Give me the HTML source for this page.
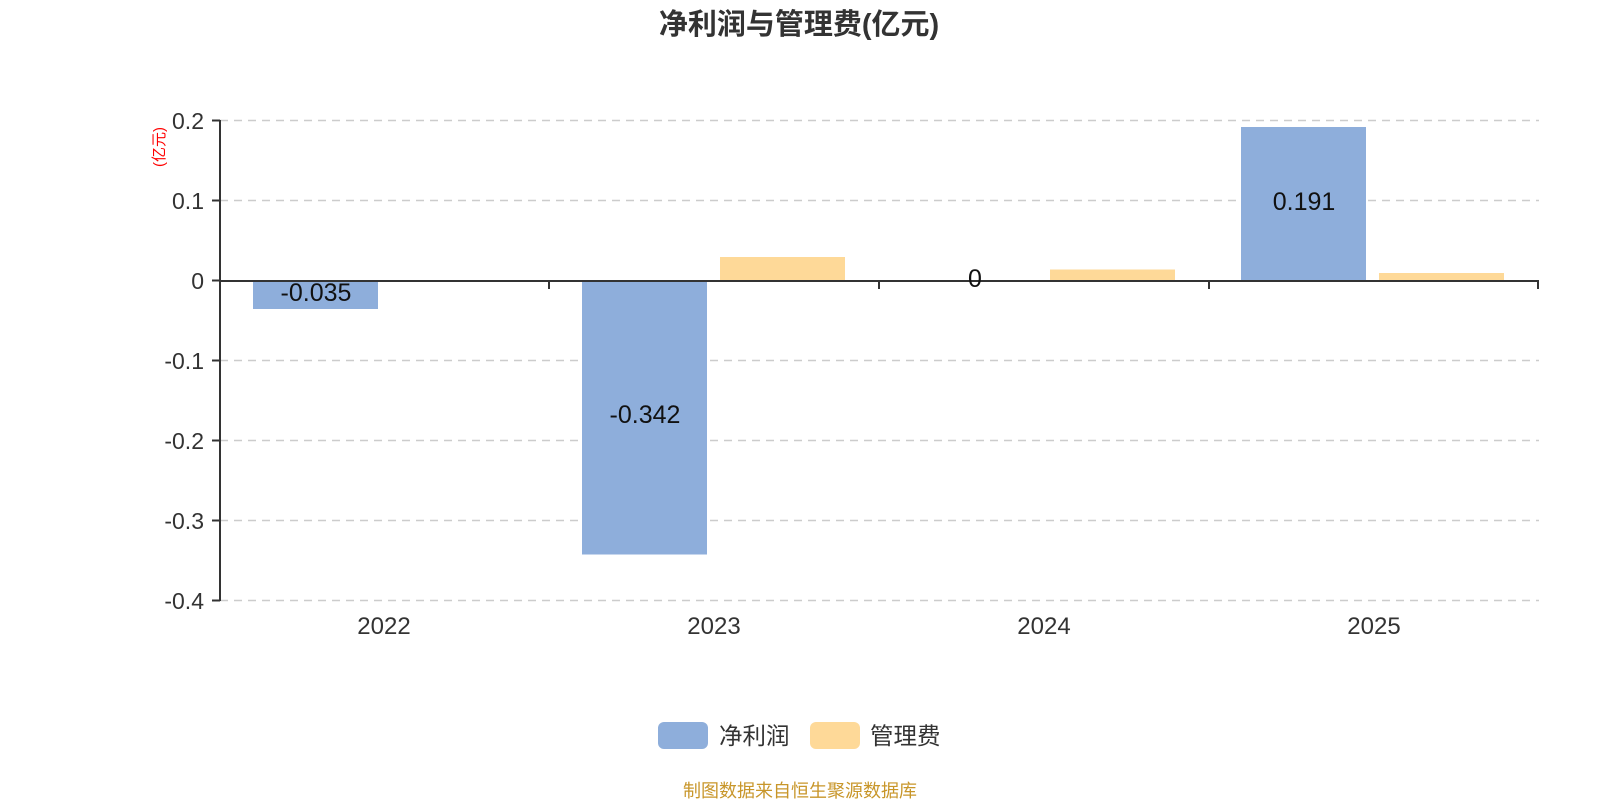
<!DOCTYPE html>
<html><head><meta charset="utf-8"><style>
html,body{margin:0;padding:0;background:#fff;}
svg text{font-family:"Liberation Sans","Noto Sans CJK SC",sans-serif;}
</style></head><body>
<svg width="1600" height="800" viewBox="0 0 1600 800" xmlns="http://www.w3.org/2000/svg">
<text x="799" y="34" text-anchor="middle" font-size="29" font-weight="bold" fill="#333">净利润与管理费(亿元)</text>
<g stroke="#ccc" stroke-width="1.5" stroke-dasharray="8,6">
<line x1="220" y1="120.5" x2="1539" y2="120.5"/>
<line x1="220" y1="200.5" x2="1539" y2="200.5"/>
<line x1="220" y1="360.5" x2="1539" y2="360.5"/>
<line x1="220" y1="440.5" x2="1539" y2="440.5"/>
<line x1="220" y1="520.5" x2="1539" y2="520.5"/>
<line x1="220" y1="600.5" x2="1539" y2="600.5"/>
</g>
<g fill="#8eaedb">
<rect x="253" y="281" width="125" height="28"/>
<rect x="582" y="281" width="125" height="273.5"/>
<rect x="1241" y="127" width="125" height="154"/>
</g>
<g fill="#fed998">
<rect x="391" y="280" width="125" height="1"/>
<rect x="720" y="257" width="125" height="24"/>
<rect x="1050" y="269.5" width="125" height="11.5"/>
<rect x="1379" y="273" width="125" height="8"/>
</g>
<g stroke="#333" stroke-width="2" fill="none">
<line x1="220" y1="120" x2="220" y2="601"/>
<line x1="212" y1="120.5" x2="220" y2="120.5"/>
<line x1="212" y1="200.5" x2="220" y2="200.5"/>
<line x1="212" y1="280.5" x2="220" y2="280.5"/>
<line x1="212" y1="360.5" x2="220" y2="360.5"/>
<line x1="212" y1="440.5" x2="220" y2="440.5"/>
<line x1="212" y1="520.5" x2="220" y2="520.5"/>
<line x1="212" y1="600.5" x2="220" y2="600.5"/>
<line x1="220" y1="281" x2="1539" y2="281"/>
<line x1="549" y1="281" x2="549" y2="289"/>
<line x1="879" y1="281" x2="879" y2="289"/>
<line x1="1209" y1="281" x2="1209" y2="289"/>
<line x1="1538" y1="281" x2="1538" y2="289"/>
</g>
<g font-size="23" fill="#333" text-anchor="end">
<text x="204" y="129">0.2</text>
<text x="204" y="209">0.1</text>
<text x="204" y="289">0</text>
<text x="204" y="369">-0.1</text>
<text x="204" y="449">-0.2</text>
<text x="204" y="529">-0.3</text>
<text x="204" y="609">-0.4</text>
</g>
<text transform="translate(164,147) rotate(-90)" text-anchor="middle" font-size="15" fill="#f00">(亿元)</text>
<g font-size="24" fill="#333" text-anchor="middle">
<text x="384" y="634">2022</text>
<text x="714" y="634">2023</text>
<text x="1044" y="634">2024</text>
<text x="1374" y="634">2025</text>
</g>
<g font-size="25" fill="#111" text-anchor="middle">
<text x="316" y="301">-0.035</text>
<text x="645" y="423">-0.342</text>
<text x="975" y="287">0</text>
<text x="1304" y="210">0.191</text>
</g>
<rect x="658" y="722" width="50" height="27" rx="6" fill="#8eaedb"/>
<text x="719" y="744" font-size="23.5" fill="#333">净利润</text>
<rect x="810" y="722" width="50" height="27" rx="6" fill="#fed998"/>
<text x="870" y="744" font-size="23.5" fill="#333">管理费</text>
<text x="800" y="797" text-anchor="middle" font-size="18" fill="#c8962a">制图数据来自恒生聚源数据库</text>
</svg>
</body></html>
